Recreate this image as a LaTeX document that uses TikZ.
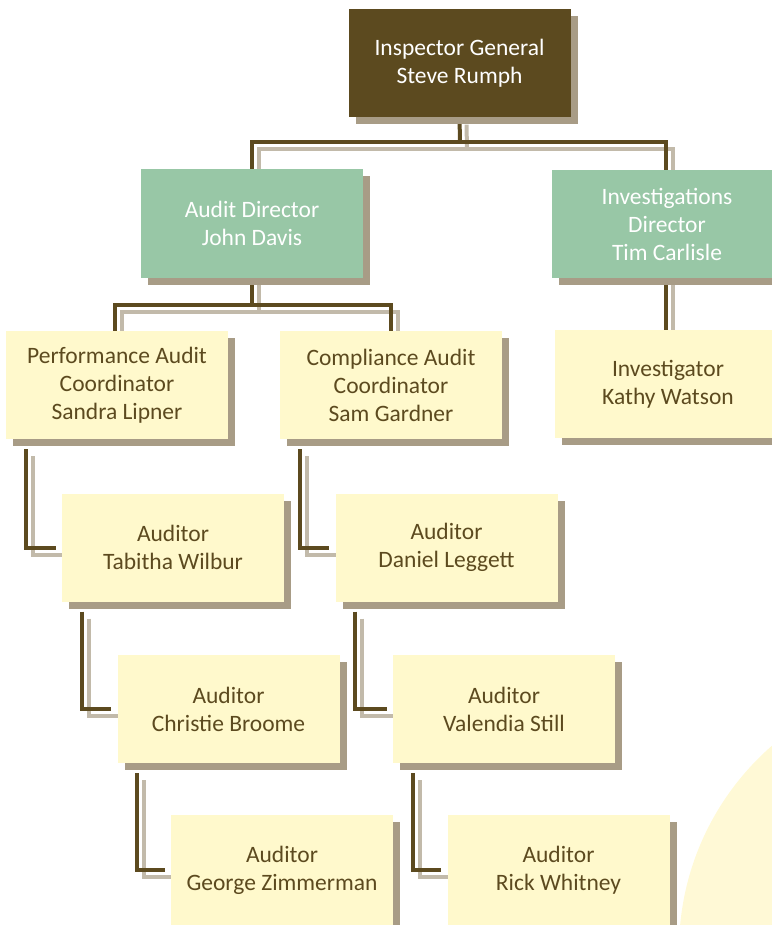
\documentclass[tikz,border=0pt]{standalone}
\usepackage{fontspec}
\setmainfont{Carlito}
\usetikzlibrary{shadows}
\definecolor{igbrown}{HTML}{5C4A1F}
\definecolor{dirgreen}{HTML}{98C7A6}
\definecolor{staffyellow}{HTML}{FFF9CC}
\definecolor{shadowgray}{HTML}{A89C86}
\definecolor{discyellow}{HTML}{FFF9D6}
\pgfdeclarelayer{background}
\pgfsetlayers{background,main}

\begin{document}
\begin{tikzpicture}[x=1pt,y=-1pt,
    box/.style={rectangle, minimum width=222pt, minimum height=108pt, inner sep=0pt,
        align=center, font=\fontsize{23.5}{28}\selectfont,
        drop shadow={shadow xshift=7pt, shadow yshift=-7pt, fill=shadowgray, opacity=1}},
    chief/.style={box, fill=igbrown, text=white},
    director/.style={box, fill=dirgreen, text=white},
    staff/.style={box, fill=staffyellow, text=igbrown},
    link/.style={draw=igbrown, line width=4pt,
        preaction={draw=shadowgray!70, line width=4pt, transform canvas={shift={(7pt,-7pt)}}}}]
        \useasboundingbox (0,0) rectangle (771,925);

        % The boxes
        \node[chief] (ig) at (459.5,63.5) {Inspector General\\Steve Rumph};
        \node[director] (audit) at (252,223.5) {Audit Director\\John Davis};
        \node[director, minimum width=230pt] (invest) at (667,224) {Investigations\\Director\\Tim Carlisle};
        \node[staff] (perf) at (117,385) {Performance Audit\\Coordinator\\Sandra Lipner};
        \node[staff] (comp) at (391,385) {Compliance Audit\\Coordinator\\Sam Gardner};
        \node[staff, minimum width=226pt] (kathy) at (668,384) {Investigator\\Kathy Watson};
        \node[staff] (tabitha) at (173,547.5) {Auditor\\Tabitha Wilbur};
        \node[staff] (daniel) at (446.5,547.5) {Auditor\\Daniel Leggett};
        \node[staff] (christie) at (228.5,709) {Auditor\\Christie Broome};
        \node[staff] (valendia) at (504,709) {Auditor\\Valendia Still};
        \node[staff, minimum height=110pt] (george) at (282,870) {Auditor\\George Zimmerman};
        \node[staff, minimum height=110pt] (rick) at (558.5,870) {Auditor\\Rick Whitney};

        \begin{pgfonlayer}{background}
            % The disc in the corner
            \fill[discyellow] (950,950) circle [radius=271pt];

            % The connectors
            \coordinate (igbar) at (460,142);
            \draw[link] (ig.south) -- (igbar);
            \draw[link] (audit.north) |- (igbar) -| ([xshift=-1pt]invest.north);
            \coordinate (adbar) at (252,305);
            \draw[link] (audit.south) -- (adbar);
            \draw[link] ([xshift=-2pt]perf.north) |- (adbar) -| (comp.north);
            \draw[link] ([xshift=-1pt]invest.south) -- ([xshift=-1pt]invest.south |- kathy.north);
            \foreach \boss/\aide in {perf/tabitha, tabitha/christie, christie/george,
                    comp/daniel, daniel/valendia, valendia/rick}
                \draw[link, shorten >=6pt] ([xshift=20pt, yshift=-10pt]\boss.south west) |- (\aide.west);
        \end{pgfonlayer}
    \end{tikzpicture}
\end{document}
